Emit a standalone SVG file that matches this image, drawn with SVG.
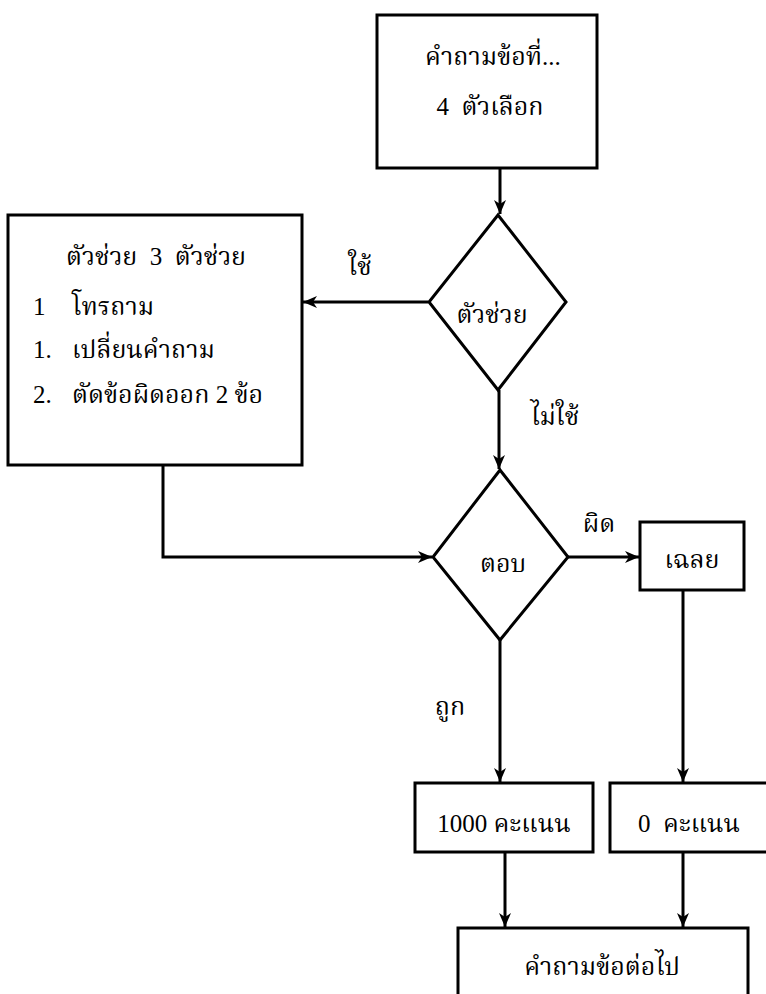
<svg xmlns="http://www.w3.org/2000/svg" width="766" height="994" viewBox="0 0 766 994">
<style>
.box{fill:#fff;stroke:#000;stroke-width:3}
.ln{fill:none;stroke:#000;stroke-width:3}
text{font-family:"Liberation Serif","Noto Serif Thai","Noto Sans Thai",serif;font-size:25px;fill:#000}
.c{text-anchor:middle}
</style>
<defs>
<marker id="ah" markerUnits="userSpaceOnUse" markerWidth="16" markerHeight="14" refX="14" refY="7" orient="auto">
<path d="M0,1 L14,7 L0,13 L4,7 Z" fill="#000"/>
</marker>
</defs>
<rect width="766" height="994" fill="#fff"/>
<g id="connectors">
<line class="ln" x1="500" y1="168" x2="500" y2="214" marker-end="url(#ah)"/>
<line class="ln" x1="428" y1="302" x2="303" y2="302" marker-end="url(#ah)"/>
<line class="ln" x1="499" y1="390" x2="499" y2="469" marker-end="url(#ah)"/>
<polyline class="ln" points="163,465 163,557 432,557" marker-end="url(#ah)"/>
<line class="ln" x1="568" y1="557" x2="639" y2="557" marker-end="url(#ah)"/>
<line class="ln" x1="500" y1="640" x2="500" y2="782" marker-end="url(#ah)"/>
<line class="ln" x1="683" y1="590" x2="683" y2="782" marker-end="url(#ah)"/>
<line class="ln" x1="505" y1="852" x2="505" y2="927" marker-end="url(#ah)"/>
<line class="ln" x1="683" y1="852" x2="683" y2="927" marker-end="url(#ah)"/>
<text x="360" y="275" class="c">ใช้</text>
<text x="555" y="425" class="c">ไม่ใช้</text>
<text x="599" y="532" class="c">ผิด</text>
<text x="450" y="715" class="c">ถูก</text>
</g>
<g id="question">
<rect class="box" x="377" y="15" width="220" height="153"/>
<text x="493" y="65" class="c">คำถามข้อที่...</text>
<text x="490" y="115" class="c" xml:space="preserve">4  ตัวเลือก</text>
</g>
<g id="helpers">
<rect class="box" x="8" y="215" width="294" height="250"/>
<text x="156" y="265" class="c" xml:space="preserve">ตัวช่วย  3  ตัวช่วย</text>
<text x="33" y="315">1</text>
<text x="72" y="315">โทรถาม</text>
<text x="33" y="358">1.</text>
<text x="72" y="358">เปลี่ยนคำถาม</text>
<text x="33" y="403">2.</text>
<text x="72" y="403">ตัดข้อผิดออก 2 ข้อ</text>
</g>
<g id="helper-decision">
<polygon class="box" points="498,215 566,302 498,390 429,302"/>
<text x="492" y="323" class="c">ตัวช่วย</text>
</g>
<g id="answer-decision">
<polygon class="box" points="500,470 568,557 500,640 433,557"/>
<text x="503" y="572" class="c">ตอบ</text>
</g>
<g id="reveal">
<rect class="box" x="640" y="522" width="104" height="68"/>
<text x="692" y="568" class="c">เฉลย</text>
</g>
<g id="score1000">
<rect class="box" x="415" y="783" width="178" height="69"/>
<text x="504" y="832" class="c">1000 คะแนน</text>
</g>
<g id="score0">
<rect class="box" x="610" y="783" width="160" height="69"/>
<text x="689" y="832" class="c" xml:space="preserve">0  คะแนน</text>
</g>
<g id="next">
<rect class="box" x="458" y="928" width="290" height="80"/>
<text x="602" y="975" class="c">คำถามข้อต่อไป</text>
</g>
</svg>
